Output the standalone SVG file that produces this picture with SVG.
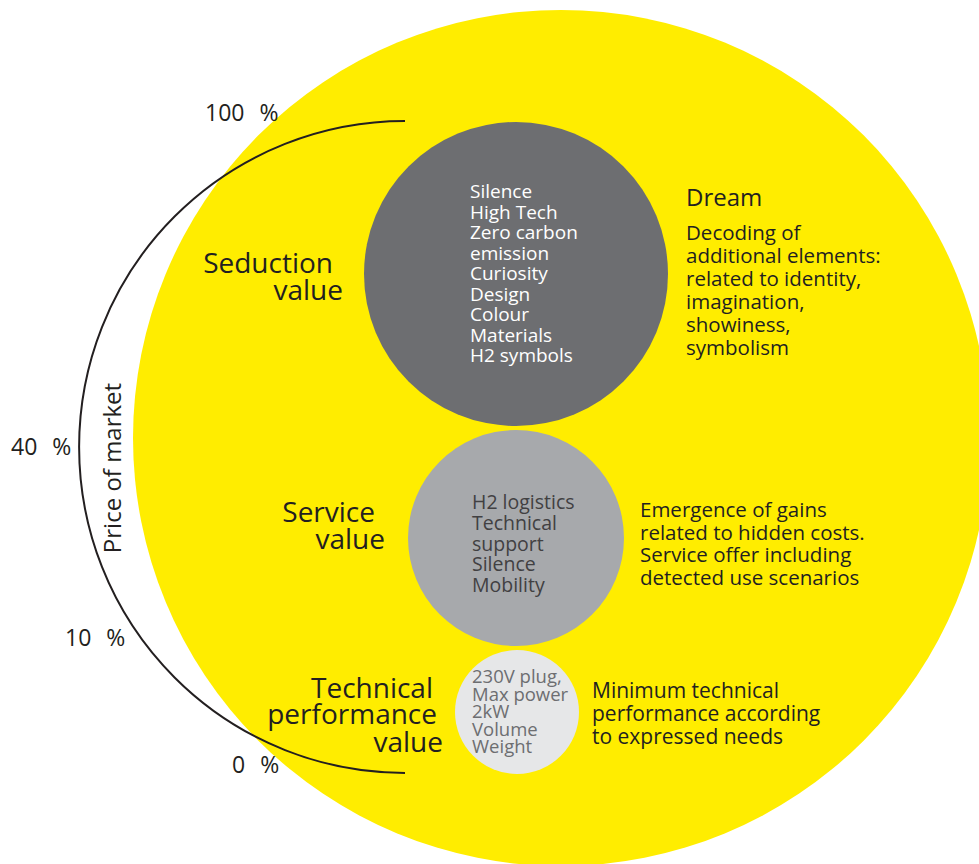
<svg xmlns="http://www.w3.org/2000/svg" width="979" height="864" viewBox="0 0 979 864">
<style>
text{font-family:"Open Sans","Noto Sans","Liberation Sans",sans-serif;fill:#231f20}
.lbl{font-size:28px;text-anchor:end}
.pct{font-size:23px;word-spacing:9px}
.desc{font-size:20.5px}
.inw{font-size:19px;fill:#ffffff}
.ins{font-size:19.5px;fill:#414042}
.int{font-size:18.5px;fill:#6d6e71}
</style>
<rect width="979" height="864" fill="#ffffff"/>
<g id="outer">
<circle cx="561" cy="438" r="428" fill="#ffed00"/>
</g>
<g id="connectors">
<path d="M405,121 A326,326 0 0 0 405,773" fill="none" stroke="#231f20" stroke-width="2"/>
</g>
<g id="scale">
<text class="pct" x="205" y="121">100 %</text>
<text class="pct" x="11" y="455">40 %</text>
<text class="pct" x="65" y="646">10 %</text>
<text class="pct" x="232" y="773">0 %</text>
<text transform="translate(121,468) rotate(-90)" style="font-size:24px;text-anchor:middle">Price of market</text>
</g>
<g id="seduction">
<circle cx="516" cy="274" r="152" fill="#6d6e71"/>
<text class="inw"><tspan x="470" y="198">Silence</tspan><tspan x="470" y="218.5">High Tech</tspan><tspan x="470" y="239">Zero carbon</tspan><tspan x="470" y="259.5">emission</tspan><tspan x="470" y="280">Curiosity</tspan><tspan x="470" y="300.5">Design</tspan><tspan x="470" y="321">Colour</tspan><tspan x="470" y="341.5">Materials</tspan><tspan x="470" y="362">H2 symbols</tspan></text>
<text class="lbl" x="333" y="273">Seduction</text>
<text class="lbl" x="343" y="300">value</text>
<text x="686" y="206" style="font-size:24px">Dream</text>
<text class="desc"><tspan x="686" y="240">Decoding of</tspan><tspan x="686" y="263">additional elements:</tspan><tspan x="686" y="286">related to identity,</tspan><tspan x="686" y="309">imagination,</tspan><tspan x="686" y="332">showiness,</tspan><tspan x="686" y="355">symbolism</tspan></text>
</g>
<g id="service">
<circle cx="516" cy="538" r="108" fill="#a7a9ac"/>
<text class="ins"><tspan x="472" y="509">H2 logistics</tspan><tspan x="472" y="530">Technical</tspan><tspan x="472" y="550.5">support</tspan><tspan x="472" y="571">Silence</tspan><tspan x="472" y="592">Mobility</tspan></text>
<text class="lbl" x="375" y="522">Service</text>
<text class="lbl" x="385" y="549">value</text>
<text class="desc"><tspan x="640" y="517">Emergence of gains</tspan><tspan x="640" y="539.5">related to hidden costs.</tspan><tspan x="640" y="562">Service offer including</tspan><tspan x="640" y="584.5">detected use scenarios</tspan></text>
</g>
<g id="technical">
<circle cx="517" cy="712" r="62" fill="#e6e7e8"/>
<text class="int"><tspan x="472" y="683">230V plug,</tspan><tspan x="472" y="700.5">Max power</tspan><tspan x="472" y="718">2kW</tspan><tspan x="472" y="735.5">Volume</tspan><tspan x="472" y="753">Weight</tspan></text>
<text class="lbl" x="433" y="698">Technical</text>
<text class="lbl" x="437" y="724">performance</text>
<text class="lbl" x="443" y="752">value</text>
<text class="desc" style="font-size:21px"><tspan x="592" y="698">Minimum technical</tspan><tspan x="592" y="721">performance according</tspan><tspan x="592" y="743.5">to expressed needs</tspan></text>
</g>
</svg>
